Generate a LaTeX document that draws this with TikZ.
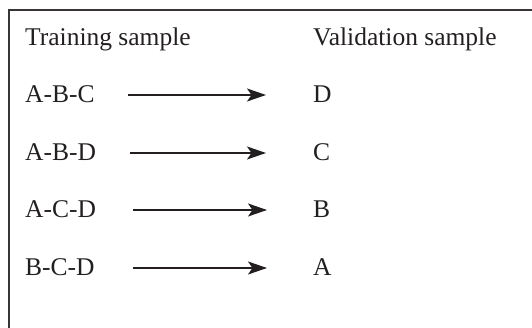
\documentclass[tikz,border=0pt]{standalone}
\usepackage{fontspec}
\setmainfont{Liberation Serif}
\usetikzlibrary{arrows.meta}
\definecolor{ink}{HTML}{231F20}
\begin{document}
\begin{tikzpicture}[x=1pt,y=-1pt,
  lbl/.style={inner sep=0pt,anchor=base west,text=ink,font=\fontsize{25.5}{30}\selectfont},
  arr/.style={draw=ink,line width=1.7pt,-{Stealth[length=19pt,width=13pt,inset=4.5pt]}},
  frame/.style={draw=ink!90,line width=2pt}]
\useasboundingbox (0,0) rectangle (532,328);
\coordinate (fb) at (9,328);
\coordinate (fc) at (9,10);
\coordinate (fr) at (532,10);
\draw[frame] (fb) -- (fc) -- (fr);
\node[lbl] (h1) at (25,45.5) {Training sample};
\node[lbl] (h2) at (313,45.5) {Validation sample};
\node[lbl] (l1) at (25,103) {A-B-C};
\node[lbl] (l2) at (25,160.5) {A-B-D};
\node[lbl] (l3) at (25,218) {A-C-D};
\node[lbl] (l4) at (25,276) {B-C-D};
\node[lbl] (r1) at (313,103) {D};
\node[lbl] (r2) at (313,160.5) {C};
\node[lbl] (r3) at (313,218) {B};
\node[lbl] (r4) at (313,276) {A};
\coordinate (s1) at (128,95); \coordinate (e1) at (266,95);
\coordinate (s2) at (130,153); \coordinate (e2) at (266,153);
\coordinate (s3) at (133,210); \coordinate (e3) at (267,210);
\coordinate (s4) at (133,268); \coordinate (e4) at (267,268);
\draw[arr] (s1) -- (e1);
\draw[arr] (s2) -- (e2);
\draw[arr] (s3) -- (e3);
\draw[arr] (s4) -- (e4);
\end{tikzpicture}
\end{document}
